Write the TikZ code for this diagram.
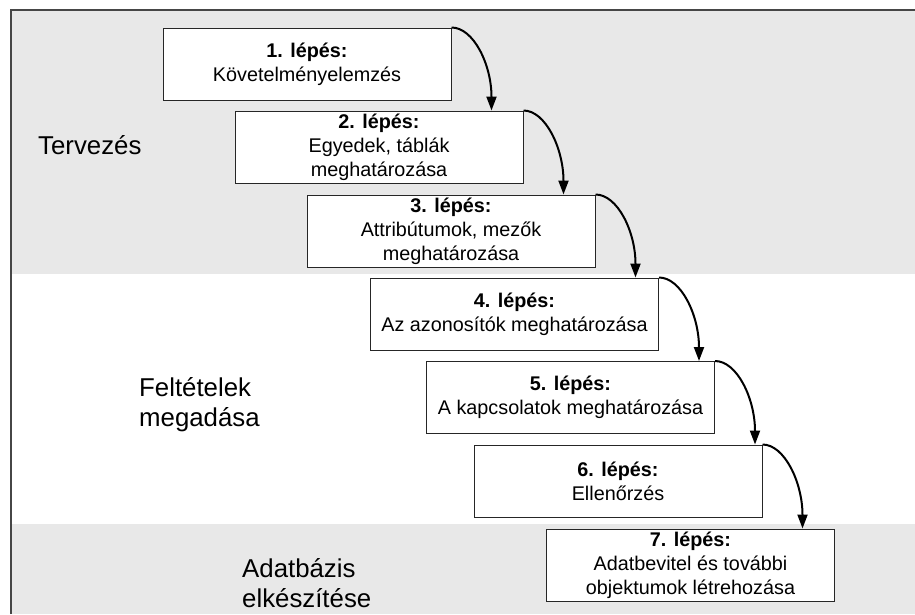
\documentclass[tikz,border=0pt]{standalone}
\usepackage{fontspec}
\setmainfont{Liberation Sans}
\usetikzlibrary{arrows.meta}

\definecolor{bandgray}{RGB}{232,232,232}
\definecolor{framegray}{RGB}{70,70,70}

\begin{document}
\begin{tikzpicture}[x=1pt, y=-1pt]

		\tikzstyle{stepbox} = [rectangle, draw=black!85, line width=1pt, fill=white, align=center, minimum width=288pt, minimum height=72pt, inner sep=2pt, font=\fontsize{19.8}{23.8}\selectfont]
		
		\tikzstyle{links} = [-{Triangle[length=14pt,width=10pt]}, line width=2pt]
		
		\tikzstyle{phase} = [anchor=west, align=left, inner sep=0pt, font=\fontsize{25.8}{30}\selectfont]
		
		\useasboundingbox (0,0) rectangle (915,614);
		
		\fill[bandgray] (11,10) rectangle (915,274);
		\fill[bandgray] (11,524) rectangle (915,614);
		\draw[framegray, line width=1.1pt] (11,614) -- (11,10) -- (915,10);
		
		\node[phase] at (38, 145) (tervezes) {Tervezés};
		\node[phase] at (139, 405) (feltetelek) {Feltételek\\megadása};
		\node[phase] at (242, 583) (adatbazis) {Adatbázis\\elkészítése};
		
		\node[stepbox] at (307, 64) (lepes1) {\textbf{1. lépés:}\\Követelményelemzés};
		\node[stepbox] at (379, 147) (lepes2) {\textbf{2. lépés:}\\Egyedek, táblák\\meghatározása};
		\node[stepbox] at (451, 231) (lepes3) {\textbf{3. lépés:}\\Attribútumok, mezők\\meghatározása};
		\node[stepbox] at (514.5, 314) (lepes4) {\textbf{4. lépés:}\\Az azonosítók meghatározása};
		\node[stepbox] at (570.5, 397.5) (lepes5) {\textbf{5. lépés:}\\A kapcsolatok meghatározása};
		\node[stepbox] at (618, 481) (lepes6) {\textbf{6. lépés:}\\Ellenőrzés};
		\node[stepbox] at (690.5, 565) (lepes7) {\textbf{7. lépés:}\\Adatbevitel és további\\objektumok létrehozása};
		
		\draw[links] (lepes1.north east) .. controls +(22,0) and +(0,-46) .. ([xshift=40pt]lepes1.north east |- lepes2.north);
		\draw[links] (lepes2.north east) .. controls +(22,0) and +(0,-46) .. ([xshift=40pt]lepes2.north east |- lepes3.north);
		\draw[links] (lepes3.north east) .. controls +(22,0) and +(0,-46) .. ([xshift=40pt]lepes3.north east |- lepes4.north);
		\draw[links] (lepes4.north east) .. controls +(22,0) and +(0,-46) .. ([xshift=40pt]lepes4.north east |- lepes5.north);
		\draw[links] (lepes5.north east) .. controls +(22,0) and +(0,-46) .. ([xshift=40pt]lepes5.north east |- lepes6.north);
		\draw[links] (lepes6.north east) .. controls +(22,0) and +(0,-46) .. ([xshift=40pt]lepes6.north east |- lepes7.north);
	\end{tikzpicture}
\end{document}
